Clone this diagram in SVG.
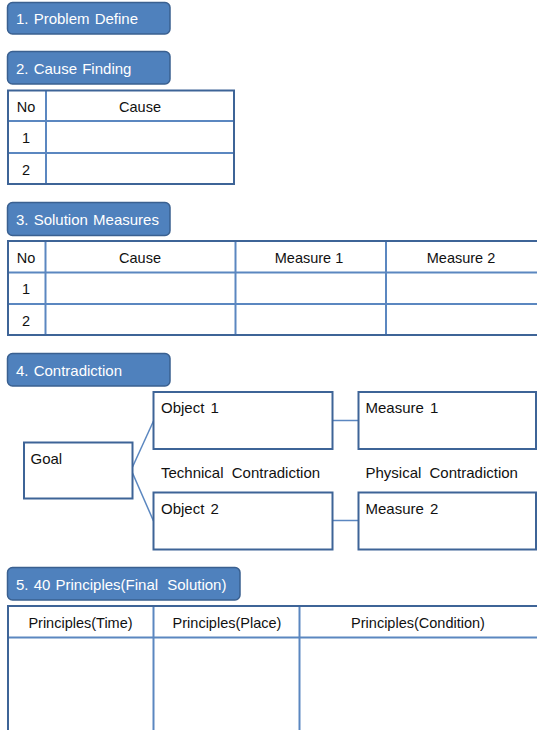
<svg xmlns="http://www.w3.org/2000/svg" width="537" height="730" viewBox="0 0 537 730">
<style>
.hdr{fill:#4F81BD;stroke:#3A6090;stroke-width:1.5}
.ht{font-family:"Liberation Sans",Arial,sans-serif;font-size:15px;fill:#FFFFFF;word-spacing:1px}
.t{font-family:"Liberation Sans",Arial,sans-serif;font-size:14.5px;fill:#111111}
.c{text-anchor:middle}
.outer{fill:none;stroke:#3E6497;stroke-width:2}
.inner{fill:none;stroke:#5B87C0;stroke-width:2}
.box{fill:#FFFFFF;stroke:#3E6497;stroke-width:2}
.bt{font-family:"Liberation Sans",Arial,sans-serif;font-size:15px;fill:#111111;word-spacing:2px}
.conn{fill:none;stroke:#5B87C0;stroke-width:1.5}
</style>
<rect width="537" height="730" fill="#FFFFFF"/>

<g id="h1"><rect class="hdr" x="7.5" y="2.5" width="162.5" height="31.5" rx="5"/><text class="ht" x="16" y="24">1. Problem Define</text></g>
<g id="h2"><rect class="hdr" x="7.5" y="51.5" width="162.5" height="32.5" rx="5"/><text class="ht" x="16" y="74">2. Cause Finding</text></g>

<g id="table2">
<line class="inner" x1="8" y1="121" x2="234" y2="121"/>
<line class="inner" x1="8" y1="153" x2="234" y2="153"/>
<line class="inner" x1="46" y1="90" x2="46" y2="184"/>
<rect class="outer" x="8" y="90.5" width="226" height="93.5"/>
<text class="t c" x="26" y="112">No</text>
<text class="t c" x="140" y="112">Cause</text>
<text class="t c" x="26" y="143">1</text>
<text class="t c" x="26" y="175">2</text>
</g>

<g id="h3"><rect class="hdr" x="7.5" y="202.5" width="162.5" height="33" rx="5"/><text class="ht" x="16" y="225">3. Solution Measures</text></g>

<g id="table3">
<line class="inner" x1="8" y1="272.5" x2="537" y2="272.5"/>
<line class="inner" x1="8" y1="304" x2="537" y2="304"/>
<line class="inner" x1="45.5" y1="241" x2="45.5" y2="335"/>
<line class="inner" x1="235.5" y1="241" x2="235.5" y2="335"/>
<line class="inner" x1="386" y1="241" x2="386" y2="335"/>
<path class="outer" d="M537 241 H8 V335 H537"/>
<text class="t c" x="26" y="263">No</text>
<text class="t c" x="140" y="263">Cause</text>
<text class="t c" x="309" y="263">Measure 1</text>
<text class="t c" x="461" y="263">Measure 2</text>
<text class="t c" x="26" y="294">1</text>
<text class="t c" x="26" y="326">2</text>
</g>

<g id="h4"><rect class="hdr" x="7.5" y="353.5" width="162.5" height="32.5" rx="5"/><text class="ht" x="16" y="376">4. Contradiction</text></g>

<g id="connectors">
<line class="conn" x1="132.5" y1="467" x2="153.5" y2="421"/>
<line class="conn" x1="132.5" y1="473" x2="153.5" y2="521"/>
<line class="conn" x1="332.5" y1="420.5" x2="358.5" y2="420.5"/>
<line class="conn" x1="332.5" y1="520.5" x2="358.5" y2="520.5"/>
</g>

<g id="goal"><rect class="box" x="24" y="442.5" width="108.5" height="56"/><text class="bt" x="30.5" y="464">Goal</text></g>
<g id="object1"><rect class="box" x="153.5" y="392" width="179" height="57"/><text class="bt" x="161" y="413">Object 1</text></g>
<g id="measure1"><rect class="box" x="358.5" y="392" width="177.5" height="57"/><text class="bt" x="365.5" y="413">Measure 1</text></g>
<g id="object2"><rect class="box" x="153.5" y="492.5" width="179" height="57"/><text class="bt" x="161" y="514">Object 2</text></g>
<g id="measure2"><rect class="box" x="358.5" y="492.5" width="177.5" height="57"/><text class="bt" x="365.5" y="514">Measure 2</text></g>
<g id="labels">
<text class="bt" x="161" y="478" style="word-spacing:4px">Technical Contradiction</text>
<text class="bt" x="365.5" y="478" style="word-spacing:4px">Physical Contradiction</text>
</g>

<g id="h5"><rect class="hdr" x="7.5" y="567.5" width="232.5" height="32.5" rx="5"/><text class="ht" x="16" y="590">5. 40 Principles(Final <tspan dx="4">Solution)</tspan></text></g>

<g id="table5">
<line class="inner" x1="8" y1="637.5" x2="537" y2="637.5"/>
<line class="inner" x1="153.5" y1="606" x2="153.5" y2="730"/>
<line class="inner" x1="299.5" y1="606" x2="299.5" y2="730"/>
<path class="outer" d="M537 606 H8 V730"/>
<text class="t c" x="80.5" y="628">Principles(Time)</text>
<text class="t c" x="227" y="628">Principles(Place)</text>
<text class="t c" x="418" y="628">Principles(Condition)</text>
</g>
</svg>
